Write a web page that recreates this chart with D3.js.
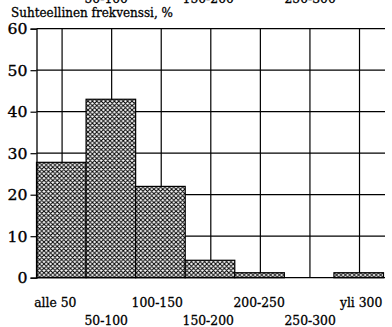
<!DOCTYPE html>
<html>
<head>
<meta charset="utf-8">
<script src="https://cdn.jsdelivr.net/npm/d3@7"></script>
<style>
  html, body { margin: 0; padding: 0; background: #fff; }
  svg { display: block; }
</style>
</head>
<body>
<script>
// Relative frequency distribution by class
const categories = ["alle 50", "50-100", "100-150", "150-200", "200-250", "250-300", "yli 300"];
const values = [27.8, 43, 22, 4.2, 1.2, 0, 1.2];
const yTicks = [0, 10, 20, 30, 40, 50, 60];
const yTitle = "Suhteellinen frekvenssi, %";

const W = 392, H = 327;
const margin = { left: 36.5, right: 8, top: 28.7, bottom: 49.3 };
const SERIF = "'DejaVu Serif', serif";

const svg = d3.select("body").append("svg")
  .attr("width", W).attr("height", H);

// cross-hatch fill for the bars
const P = 4.4;
const pat = svg.append("defs").append("pattern")
  .attr("id", "cross")
  .attr("patternUnits", "userSpaceOnUse")
  .attr("width", P).attr("height", P);
pat.append("rect").attr("width", P).attr("height", P).attr("fill", "#fff");
pat.append("path")
  .attr("d", `M0,0L${P},${P}M${P},0L0,${P}M-1,1L1,-1M${P - 1},${P + 1}L${P + 1},${P - 1}M-1,${P - 1}L1,${P + 1}M${P - 1},-1L${P + 1},1`)
  .attr("stroke", "#000").attr("stroke-width", 1.05).attr("fill", "none");

const x = d3.scaleBand()
  .domain(categories)
  .range([margin.left, 383.5])
  .padding(0);

const y = d3.scaleLinear()
  .domain([0, 60])
  .range([H - margin.bottom, margin.top]);

const gridRight = 385;

function stretch(sel, k) {
  sel.each(function () {
    const len = this.getComputedTextLength();
    d3.select(this).attr("textLength", len * k).attr("lengthAdjust", "spacingAndGlyphs");
  });
}
function ink(sel) {
  sel.attr("fill", "#000").attr("stroke", "#000").attr("stroke-width", 0.3);
}

// horizontal grid lines
svg.append("g").selectAll("line").data(yTicks.filter(d => d > 0)).join("line")
  .attr("x1", margin.left).attr("x2", gridRight)
  .attr("y1", d => y(d)).attr("y2", d => y(d))
  .attr("stroke", "#000").attr("stroke-width", 1.2);

// vertical grid lines at class centres
svg.append("g").selectAll("line").data(categories).join("line")
  .attr("x1", d => x(d) + x.bandwidth() / 2 + 0.8)
  .attr("x2", d => x(d) + x.bandwidth() / 2 + 0.8)
  .attr("y1", y(60)).attr("y2", y(0))
  .attr("stroke", "#000").attr("stroke-width", 1.2);

// bars
svg.append("g").selectAll("rect").data(categories.map((c, i) => ({ c, v: values[i] }))
    .filter(d => d.v > 0)).join("rect")
  .attr("x", d => x(d.c))
  .attr("width", x.bandwidth())
  .attr("y", d => y(d.v))
  .attr("height", d => y(0) - y(d.v))
  .attr("fill", "url(#cross)")
  .attr("stroke", "#000").attr("stroke-width", 1.2);

// baseline
svg.append("line")
  .attr("x1", margin.left).attr("x2", gridRight)
  .attr("y1", y(0)).attr("y2", y(0))
  .attr("stroke", "#000").attr("stroke-width", 1.3);

// y axis
const yAxis = d3.axisLeft(y).tickValues(yTicks).tickSize(6).tickPadding(3);
const gy = svg.append("g").attr("transform", `translate(${margin.left},0)`).call(yAxis);
gy.attr("font-family", null).attr("font-size", null);
gy.select(".domain").attr("stroke", "#000").attr("stroke-width", 1.3);
gy.selectAll(".tick line").attr("stroke", "#000").attr("stroke-width", 1.2);
gy.selectAll(".tick text")
  .style("font-family", SERIF)
  .style("font-size", "14px")
  .attr("dy", "0.35em")
  .call(ink)
  .call(stretch, 1.12);

// axis title
svg.append("text")
  .attr("x", 11).attr("y", 17)
  .style("font-family", SERIF)
  .style("font-size", "12.5px")
  .text(yTitle)
  .call(ink)
  .call(stretch, 0.96);

// category labels, staggered in two rows, drifting slightly left-to-right
const labelX = (d, i) => x(d) + x.bandwidth() / 2 - 6 + i * 1.4;
svg.append("g").selectAll("text").data(categories).join("text")
  .attr("x", labelX)
  .attr("y", (d, i) => i % 2 === 0 ? 307 : 325)
  .attr("text-anchor", "middle")
  .style("font-family", SERIF)
  .style("font-size", "13px")
  .text(d => d)
  .call(ink)
  .call(stretch, 0.95);

// lower row of the preceding chart's labels, cut by the top edge
svg.append("g").selectAll("text")
  .data(categories.map((d, i) => ({ d, i })).filter(o => o.i % 2 === 1)).join("text")
  .attr("x", o => labelX(o.d, o.i))
  .attr("y", 2.5)
  .attr("text-anchor", "middle")
  .style("font-family", SERIF)
  .style("font-size", "13px")
  .text(o => o.d)
  .call(ink)
  .call(stretch, 0.95);
</script>
</body>
</html>
